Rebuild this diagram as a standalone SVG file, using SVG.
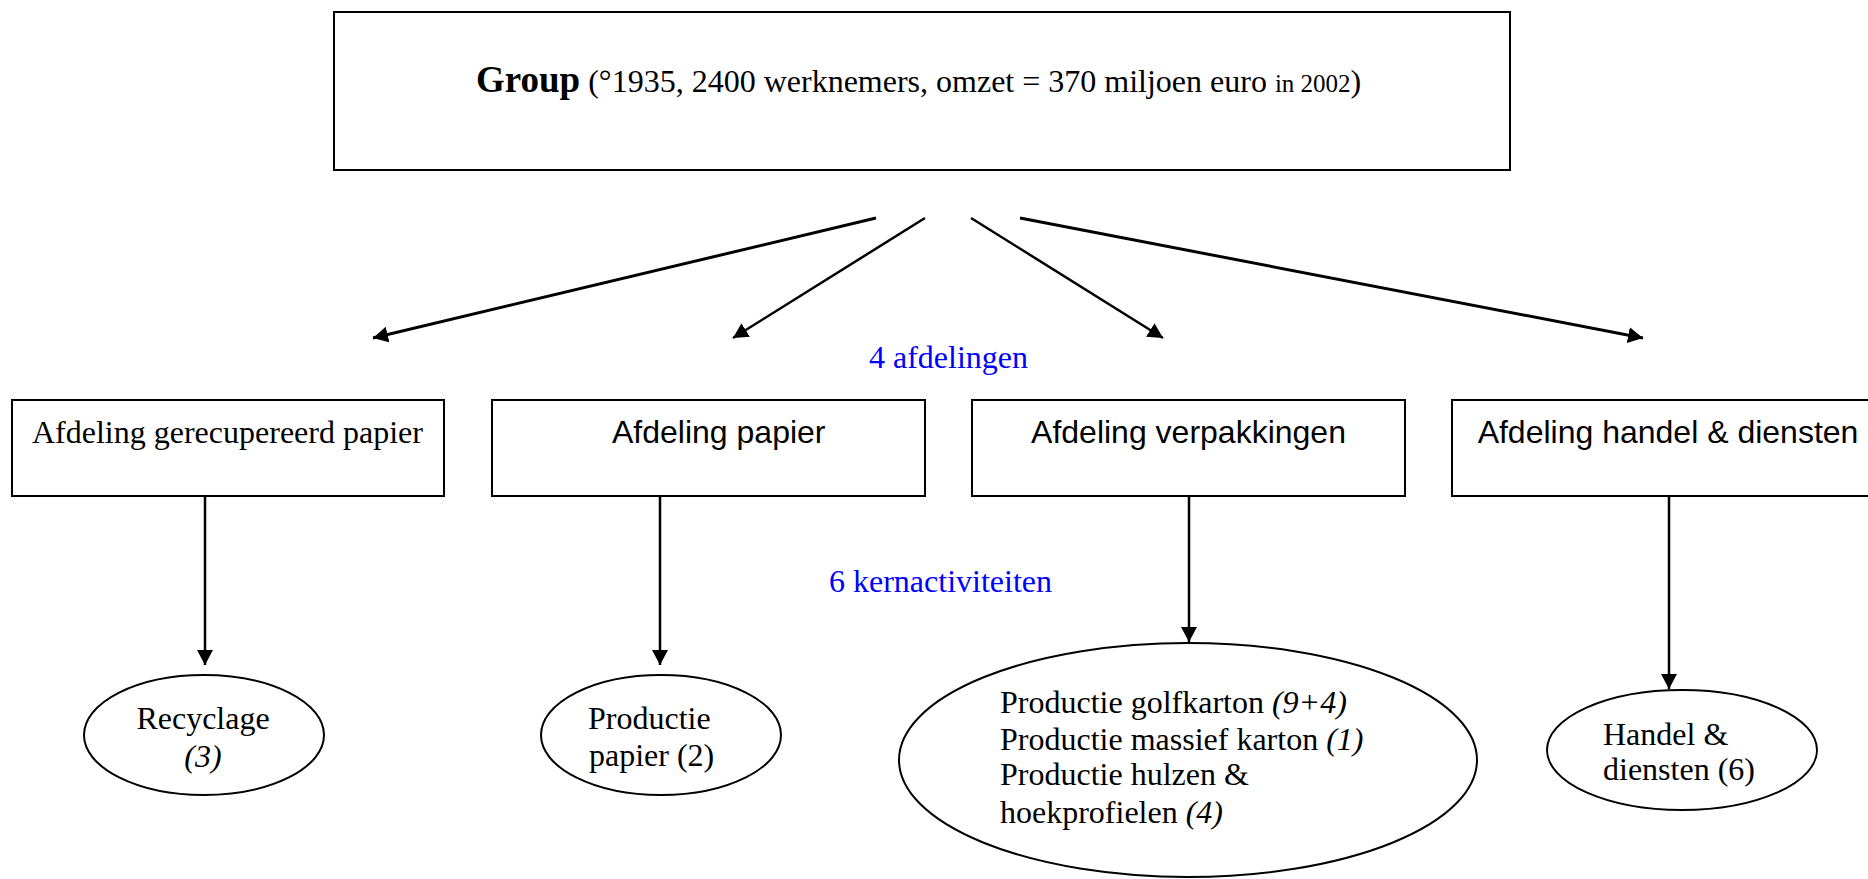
<svg xmlns="http://www.w3.org/2000/svg" width="1868" height="879" viewBox="0 0 1868 879">
<style>
.box{fill:#fff;stroke:#000;stroke-width:2}
.serif{font-family:"Liberation Serif","Times New Roman",serif;font-size:32px;fill:#000}
.sans{font-family:"Liberation Sans",Arial,sans-serif;font-size:32px;fill:#000}
.blue{fill:#0000ff}
.it{font-style:italic}
.conn{stroke:#000;fill:none;marker-end:url(#ah)}
</style>
<defs>
<marker id="ah" viewBox="0 0 15 16" refX="15" refY="8" markerWidth="15" markerHeight="16" markerUnits="userSpaceOnUse" orient="auto">
<path d="M0,0 L15,8 L0,16 Z" fill="#000"/>
</marker>
</defs>
<rect width="1868" height="879" fill="#fff"/>

<g id="group">
<rect class="box" x="334" y="12" width="1176" height="158"/>
<text class="serif" x="476" y="92"><tspan font-weight="bold" font-size="37">Group</tspan> (°1935, 2400 werknemers, omzet = 370 miljoen euro <tspan font-size="25">in 2002</tspan>)</text>
</g>

<g id="connectors">
<line class="conn" stroke-width="3" x1="876" y1="218" x2="373" y2="338"/>
<line class="conn" stroke-width="2.5" x1="925" y1="218" x2="733" y2="338"/>
<line class="conn" stroke-width="2.5" x1="971" y1="218" x2="1163" y2="338"/>
<line class="conn" stroke-width="3" x1="1020" y1="218" x2="1643" y2="338"/>
<line class="conn" stroke-width="2.5" x1="205" y1="496" x2="205" y2="665"/>
<line class="conn" stroke-width="2.5" x1="660" y1="496" x2="660" y2="665"/>
<line class="conn" stroke-width="2.5" x1="1189" y1="496" x2="1189" y2="642"/>
<line class="conn" stroke-width="2.5" x1="1669" y1="496" x2="1669" y2="689"/>
</g>

<g id="label-afdelingen">
<text class="serif blue" x="869" y="368">4 afdelingen</text>
</g>
<g id="label-kernactiviteiten">
<text class="serif blue" x="829" y="592">6 kernactiviteiten</text>
</g>

<g id="afd-gerecupereerd">
<rect class="box" x="12" y="400" width="432" height="96"/>
<text class="serif" x="32" y="443">Afdeling gerecupereerd papier</text>
</g>
<g id="afd-papier">
<rect class="box" x="492" y="400" width="433" height="96"/>
<text class="sans" x="612" y="443">Afdeling papier</text>
</g>
<g id="afd-verpakkingen">
<rect class="box" x="972" y="400" width="433" height="96"/>
<text class="sans" x="1188.5" y="443" text-anchor="middle">Afdeling verpakkingen</text>
</g>
<g id="afd-handel">
<rect class="box" x="1452" y="400" width="432" height="96"/>
<text class="sans" x="1668" y="443" text-anchor="middle">Afdeling handel &amp; diensten</text>
</g>

<g id="recyclage">
<ellipse class="box" cx="204" cy="735" rx="120" ry="60"/>
<text class="serif" x="203" y="729" text-anchor="middle">Recyclage</text>
<text class="serif it" x="203" y="767" text-anchor="middle">(3)</text>
</g>
<g id="productie-papier">
<ellipse class="box" cx="661" cy="735" rx="120" ry="60"/>
<text class="serif" x="588" y="729">Productie</text>
<text class="serif" x="589" y="766">papier (2)</text>
</g>
<g id="productie-verpakkingen">
<ellipse class="box" cx="1188" cy="760" rx="289" ry="117"/>
<text class="serif" x="1000" y="713">Productie golfkarton <tspan class="it">(9+4)</tspan></text>
<text class="serif" x="1000" y="750">Productie massief karton <tspan class="it">(1)</tspan></text>
<text class="serif" x="1000" y="785">Productie hulzen &amp;</text>
<text class="serif" x="1000" y="823">hoekprofielen <tspan class="it">(4)</tspan></text>
</g>
<g id="handel-diensten">
<ellipse class="box" cx="1682" cy="750" rx="135" ry="60"/>
<text class="serif" x="1603" y="745">Handel &amp;</text>
<text class="serif" x="1603" y="780">diensten (6)</text>
</g>
</svg>
